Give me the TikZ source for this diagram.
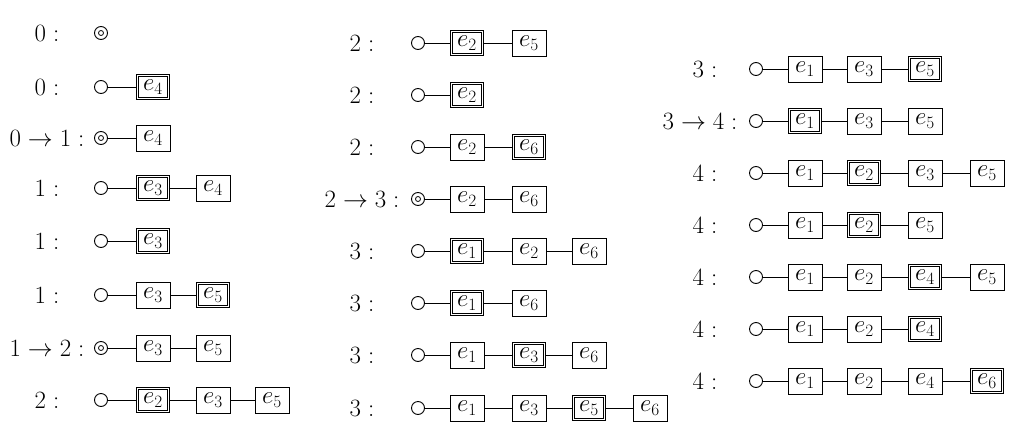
\documentclass[tikz,border=0pt]{standalone}
\begin{document}
\begin{tikzpicture}[x=1pt,y=-1pt,
  bx/.style={draw,line width=0.9pt,minimum width=34pt,minimum height=26pt,inner sep=0pt,font=\fontsize{24}{26}\selectfont},
  dbx/.style={bx,double,double distance=1.6pt,line width=0.8pt,minimum width=31pt,minimum height=23pt},
  lab/.style={font=\fontsize{24}{26}\selectfont},
  cir/.style={circle,draw,line width=0.9pt,minimum size=13pt,inner sep=0pt},
  ln/.style={line width=0.9pt}]
\useasboundingbox (0,0) rectangle (1024,444);
\newcommand{\cc}[3]{\node[cir] (#1) at (#2,#3) {};}
\newcommand{\tc}[3]{\node[cir] (#1) at (#2,#3) {}; \draw[line width=0.8pt] (#2,#3) circle (2.5pt);}
% column 1
\node[lab] at (47,33) {$0:$}; \tc{a1}{101}{33}
\node[lab] at (47,87) {$0:$}; \cc{a2}{101}{87} \node[dbx] (a2a) at (153,87) {$e_4$}; \draw[ln] (a2)--(a2a);
\node[lab] at (47,138) {$0\to1:$}; \tc{a3}{101}{138} \node[bx] (a3a) at (153,138) {$e_4$}; \draw[ln] (a3)--(a3a);
\node[lab] at (47,188) {$1:$}; \cc{a4}{101}{188} \node[dbx] (a4a) at (153,188) {$e_3$}; \node[bx] (a4b) at (213,188) {$e_4$}; \draw[ln] (a4)--(a4a)--(a4b);
\node[lab] at (47,241) {$1:$}; \cc{a5}{101}{241} \node[dbx] (a5a) at (153,241) {$e_3$}; \draw[ln] (a5)--(a5a);
\node[lab] at (47,295) {$1:$}; \cc{a6}{101}{295} \node[bx] (a6a) at (153,295) {$e_3$}; \node[dbx] (a6b) at (213,295) {$e_5$}; \draw[ln] (a6)--(a6a)--(a6b);
\node[lab] at (47,348) {$1\to2:$}; \tc{a7}{101}{348} \node[bx] (a7a) at (153,348) {$e_3$}; \node[bx] (a7b) at (213,348) {$e_5$}; \draw[ln] (a7)--(a7a)--(a7b);
\node[lab] at (47,400) {$2:$}; \cc{a8}{101}{400} \node[dbx] (a8a) at (153,400) {$e_2$}; \node[bx] (a8b) at (213,400) {$e_3$}; \node[bx] (a8c) at (272,400) {$e_5$}; \draw[ln] (a8)--(a8a)--(a8b)--(a8c);
% column 2
\node[lab] at (362,43) {$2:$}; \cc{b1}{418}{43} \node[dbx] (b1a) at (467,43) {$e_2$}; \node[bx] (b1b) at (529,43) {$e_5$}; \draw[ln] (b1)--(b1a)--(b1b);
\node[lab] at (362,95) {$2:$}; \cc{b2}{418}{95} \node[dbx] (b2a) at (467,95) {$e_2$}; \draw[ln] (b2)--(b2a);
\node[lab] at (362,147) {$2:$}; \cc{b3}{418}{147} \node[bx] (b3a) at (467,147) {$e_2$}; \node[dbx] (b3b) at (529,147) {$e_6$}; \draw[ln] (b3)--(b3a)--(b3b);
\node[lab] at (362,199) {$2\to3:$}; \tc{b4}{418}{199} \node[bx] (b4a) at (467,199) {$e_2$}; \node[bx] (b4b) at (529,199) {$e_6$}; \draw[ln] (b4)--(b4a)--(b4b);
\node[lab] at (362,251) {$3:$}; \cc{b5}{418}{251} \node[dbx] (b5a) at (467,251) {$e_1$}; \node[bx] (b5b) at (529,251) {$e_2$}; \node[bx] (b5c) at (589,251) {$e_6$}; \draw[ln] (b5)--(b5a)--(b5b)--(b5c);
\node[lab] at (362,303) {$3:$}; \cc{b6}{418}{303} \node[dbx] (b6a) at (467,303) {$e_1$}; \node[bx] (b6b) at (529,303) {$e_6$}; \draw[ln] (b6)--(b6a)--(b6b);
\node[lab] at (362,355) {$3:$}; \cc{b7}{418}{355} \node[bx] (b7a) at (467,355) {$e_1$}; \node[dbx] (b7b) at (529,355) {$e_3$}; \node[bx] (b7c) at (589,355) {$e_6$}; \draw[ln] (b7)--(b7a)--(b7b)--(b7c);
\node[lab] at (362,408) {$3:$}; \cc{b8}{418}{408} \node[bx] (b8a) at (467,408) {$e_1$}; \node[bx] (b8b) at (529,408) {$e_3$}; \node[dbx] (b8c) at (589,408) {$e_5$}; \node[bx] (b8d) at (650,408) {$e_6$}; \draw[ln] (b8)--(b8a)--(b8b)--(b8c)--(b8d);
% column 3
\node[lab] at (705,69) {$3:$}; \cc{c1}{756}{69} \node[bx] (c1a) at (805,69) {$e_1$}; \node[bx] (c1b) at (864,69) {$e_3$}; \node[dbx] (c1c) at (925,69) {$e_5$}; \draw[ln] (c1)--(c1a)--(c1b)--(c1c);
\node[lab] at (700,121) {$3\to4:$}; \cc{c2}{756}{121} \node[dbx] (c2a) at (805,121) {$e_1$}; \node[bx] (c2b) at (864,121) {$e_3$}; \node[bx] (c2c) at (925,121) {$e_5$}; \draw[ln] (c2)--(c2a)--(c2b)--(c2c);
\node[lab] at (705,173) {$4:$}; \cc{c3}{756}{173} \node[bx] (c3a) at (805,173) {$e_1$}; \node[dbx] (c3b) at (864,173) {$e_2$}; \node[bx] (c3c) at (925,173) {$e_3$}; \node[bx] (c3d) at (987,173) {$e_5$}; \draw[ln] (c3)--(c3a)--(c3b)--(c3c)--(c3d);
\node[lab] at (705,225) {$4:$}; \cc{c4}{756}{225} \node[bx] (c4a) at (805,225) {$e_1$}; \node[dbx] (c4b) at (864,225) {$e_2$}; \node[bx] (c4c) at (925,225) {$e_5$}; \draw[ln] (c4)--(c4a)--(c4b)--(c4c);
\node[lab] at (705,277) {$4:$}; \cc{c5}{756}{277} \node[bx] (c5a) at (805,277) {$e_1$}; \node[bx] (c5b) at (864,277) {$e_2$}; \node[dbx] (c5c) at (925,277) {$e_4$}; \node[bx] (c5d) at (987,277) {$e_5$}; \draw[ln] (c5)--(c5a)--(c5b)--(c5c)--(c5d);
\node[lab] at (705,329) {$4:$}; \cc{c6}{756}{329} \node[bx] (c6a) at (805,329) {$e_1$}; \node[bx] (c6b) at (864,329) {$e_2$}; \node[dbx] (c6c) at (925,329) {$e_4$}; \draw[ln] (c6)--(c6a)--(c6b)--(c6c);
\node[lab] at (705,381) {$4:$}; \cc{c7}{756}{381} \node[bx] (c7a) at (805,381) {$e_1$}; \node[bx] (c7b) at (864,381) {$e_2$}; \node[bx] (c7c) at (925,381) {$e_4$}; \node[dbx] (c7d) at (987,381) {$e_6$}; \draw[ln] (c7)--(c7a)--(c7b)--(c7c)--(c7d);
\end{tikzpicture}
\end{document}
